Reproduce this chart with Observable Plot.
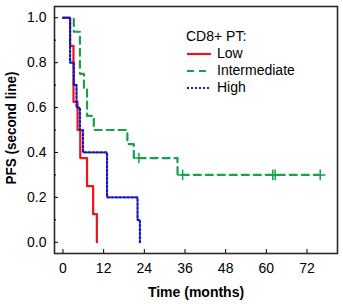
<!DOCTYPE html>
<html><head><meta charset="utf-8">
<script src="https://cdn.jsdelivr.net/npm/d3@7"></script>
<script src="https://cdn.jsdelivr.net/npm/@observablehq/plot@0.6"></script>
<style>
body{margin:0;background:#fff;}
#wrap{position:relative;width:343px;height:304px;font-family:"Liberation Sans",Arial,sans-serif;color:#000;}
#wrap svg [aria-label$="axis label"] text{font-weight:bold;}
#legend{position:absolute;left:186px;top:28px;font-size:14px;line-height:17px;}
#legend .row{display:flex;align-items:center;height:17px;}
#legend svg{margin-right:5px;}
</style></head><body><div id="wrap"></div>
<script>
const groups = ["Low","Intermediate","High"];
const colors = ["#e8161d","#18a04a","#1616c8"];
const dashes = ["none","7,5","2,2"];
const lowTime  = [0,2.1,3.1,4.3,5.1,7.1,8.9,10.0];
const lowSurv  = [1,0.875,0.625,0.5,0.375,0.25,0.125,0];
const intTime  = [0,3.2,5.0,6.2,7.1,9.1,19.0,20.9,33.8,75.9];
const intSurv  = [1,0.9375,0.75,0.6875,0.5625,0.5,0.4375,0.375,0.3,0.3];
const highTime = [0,2.1,3.2,4.0,5.0,5.9,13.0,22.0,22.7];
const highSurv = [1,0.8,0.7,0.6,0.5,0.4,0.2,0.1,0];
const intCensorTime = [22.4,35.3,61.9,62.6,75.9];
const intCensorSurv = [0.375,0.3,0.3,0.3,0.3];
const xTicks = [0,12,24,36,48,60,72];
const yTicks = [0,0.2,0.4,0.6,0.8,1.0];
const yMinorTicks = [0.1,0.3,0.5,0.7,0.9];
const yLabel = "PFS (second line)";

const toRows = (ts, ss) => ts.map((t,i)=>({t, s:ss[i]}));
const series = [toRows(lowTime,lowSurv), toRows(intTime,intSurv), toRows(highTime,highSurv)];
const censor = toRows(intCensorTime, intCensorSurv);
const order = [1,0,2];

const plot = Plot.plot({
  width:343, height:304,
  marginLeft:54, marginRight:6, marginTop:6, marginBottom:51,
  style:{fontFamily:'"Liberation Sans",Arial,sans-serif', fontSize:"14px", color:"#000", background:"#fff"},
  x:{domain:[-2.5,81]},
  y:{domain:[-0.05,1.05]},
  marks:[
    Plot.frame({stroke:"#2a2a2a", strokeWidth:1.6}),
    Plot.axisX(xTicks,{tickSize:-4, tickPadding:14, label:"Time (months)", labelAnchor:"center", labelOffset:43, labelArrow:"none", fontSize:14}),
    Plot.axisY(yTicks,{tickSize:-4, tickPadding:12, tickFormat:d3.format(".1f"), label:null}),
    Plot.axisY(yMinorTicks,{tickSize:-2, tickFormat:()=>"", label:null}),
    Plot.text([yLabel],{text:d=>d, frameAnchor:"left", rotate:-90, dx:-43, dy:-2, fontWeight:"bold", fontSize:14, textAnchor:"middle", className:"ylab"}),
    ...order.map(i => Plot.line(series[i],{x:"t", y:"s", curve:"step-after", stroke:colors[i], strokeWidth:2.2, strokeDasharray:dashes[i]})),
    Plot.dot(censor,{x:"t", y:"s", symbol:"plus", r:3.5, stroke:colors[1], strokeWidth:1.5})
  ]
});
const wrap = document.getElementById("wrap");
wrap.appendChild(plot);
plot.querySelectorAll("text").forEach(el => {
  if (el.textContent.indexOf("second") >= 0) {
    el.setAttribute("textLength", "113");
    el.setAttribute("lengthAdjust", "spacingAndGlyphs");
  }
});
const lg = document.createElement("div");
lg.id = "legend";
let html = '<div class="row">CD8+ PT:</div>';
groups.forEach((g,i)=>{
  html += `<div class="row"><svg width="26" height="6"><line x1="1" y1="3" x2="25" y2="3" stroke="${colors[i]}" stroke-width="2.2" stroke-dasharray="${dashes[i]}"/></svg>${g}</div>`;
});
lg.innerHTML = html;
wrap.appendChild(lg);
</script></body></html>
